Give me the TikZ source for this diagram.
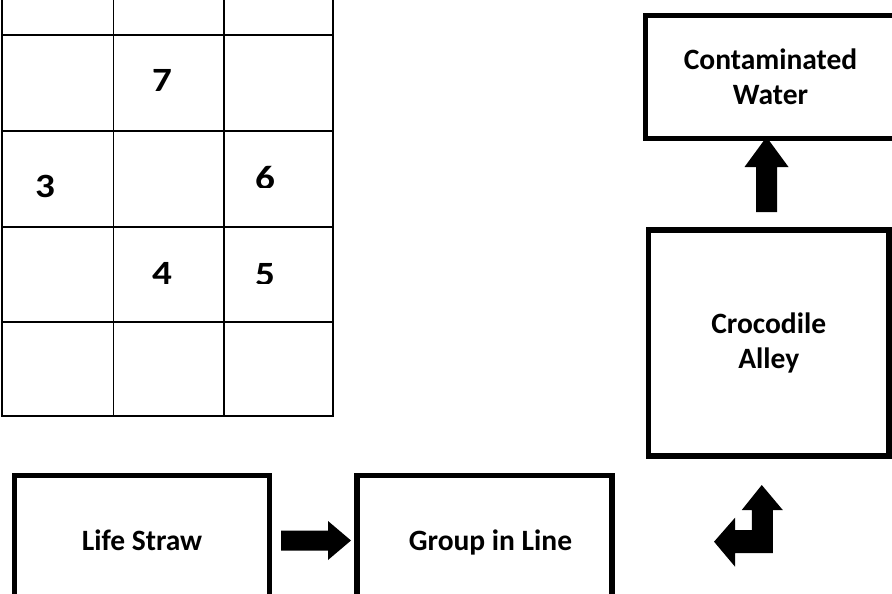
\documentclass[tikz,border=0pt]{standalone}
\usepackage{fontspec}
\setmainfont{Carlito}
\usetikzlibrary{calc}
\newcommand\widedigit[1]{\scalebox{1.15}[1]{#1}}
\begin{document}
\begin{tikzpicture}[x=1pt,y=-1pt,
  gridline/.style={line width=1.8pt, line cap=rect},
  box/.style={draw, line width=5.5pt, inner sep=0pt, align=center,
    font=\bfseries\fontsize{29.5}{35.5}\selectfont},
  digit/.style={anchor=base, inner sep=0pt, font=\bfseries\fontsize{34}{40}\selectfont},
  blockarrow/.style={fill=black}]
\useasboundingbox (0,0) rectangle (892,594);
\clip (0,0) rectangle (892,594);

% number grid, cut off at the top
\foreach \x in {2,113.5,224,333} \draw[gridline] (\x,-5) -- (\x,416);
\foreach \y in {35,131,227,322,416} \draw[gridline] (2,\y) -- (333,\y);

\node[digit] (n7) at (162,92) {\widedigit{7}};
\node[digit] (n3) at (45,197) {\widedigit{3}};
\node[digit] (n4) at (162,284) {\widedigit{4}};
\begin{scope}
  \clip (224,131) rectangle (333,187.7);
  \node[digit] (n6) at (265,189) {\widedigit{6}};
\end{scope}
\begin{scope}
  \clip (224,227) rectangle (333,283);
  \node[digit] (n5) at (265,285.5) {\widedigit{5}};
\end{scope}

% flow boxes
\node[box, minimum width=250, minimum height=123] (water) at (770.5,77) {Contaminated\\Water};
\node[box, minimum width=240.5, minimum height=226] (croc) at (768.75,343) {Crocodile\\Alley};
\node[box, minimum width=255, minimum height=133] (straw) at (142,542) {\vphantom{Lp}Life Straw};
\node[box, minimum width=255, minimum height=133] (group) at (484.5,542) {\hspace*{12pt}\vphantom{Lp}Group in Line};

% block arrow Life Straw -> Group in Line
\coordinate (a1) at ($(straw.east)+(8.75,-1.5)$);
\coordinate (a2) at ($(group.west)+(-3.25,-1.5)$);
\fill[blockarrow] ($(a1)+(0,-10)$) -- ($(a2)+(-23,-10)$) -- ($(a2)+(-23,-19.5)$) -- (a2)
  -- ($(a2)+(-23,19.5)$) -- ($(a2)+(-23,10)$) -- ($(a1)+(0,10)$) -- cycle;

% block arrow Crocodile Alley -> Contaminated Water
\coordinate (b1) at ($(croc.north)+(-2.25,-15.25)$);
\coordinate (b2) at ($(water.south)+(-4,-4.25)$);
\fill[blockarrow] ($(b1)+(-10.5,0)$) -- ($(b2)+(-10.5,30)$) -- ($(b2)+(-22,30)$) -- (b2)
  -- ($(b2)+(22,30)$) -- ($(b2)+(10.5,30)$) -- ($(b1)+(10.5,0)$) -- cycle;

% bent two-headed arrow below Crocodile Alley
\coordinate (c) at ($(croc.south)+(-7,26.25)$);
\fill[blockarrow, shift={(c)}] (0,0) -- (21,25) -- (11,25) -- (11,68) -- (-26.7,68)
  -- (-26.7,81.7) -- (-47.7,56.7) -- (-26.7,32.7) -- (-26.7,45) -- (-10,45)
  -- (-10,25) -- (-20,25) -- cycle;
\end{tikzpicture}
\end{document}
